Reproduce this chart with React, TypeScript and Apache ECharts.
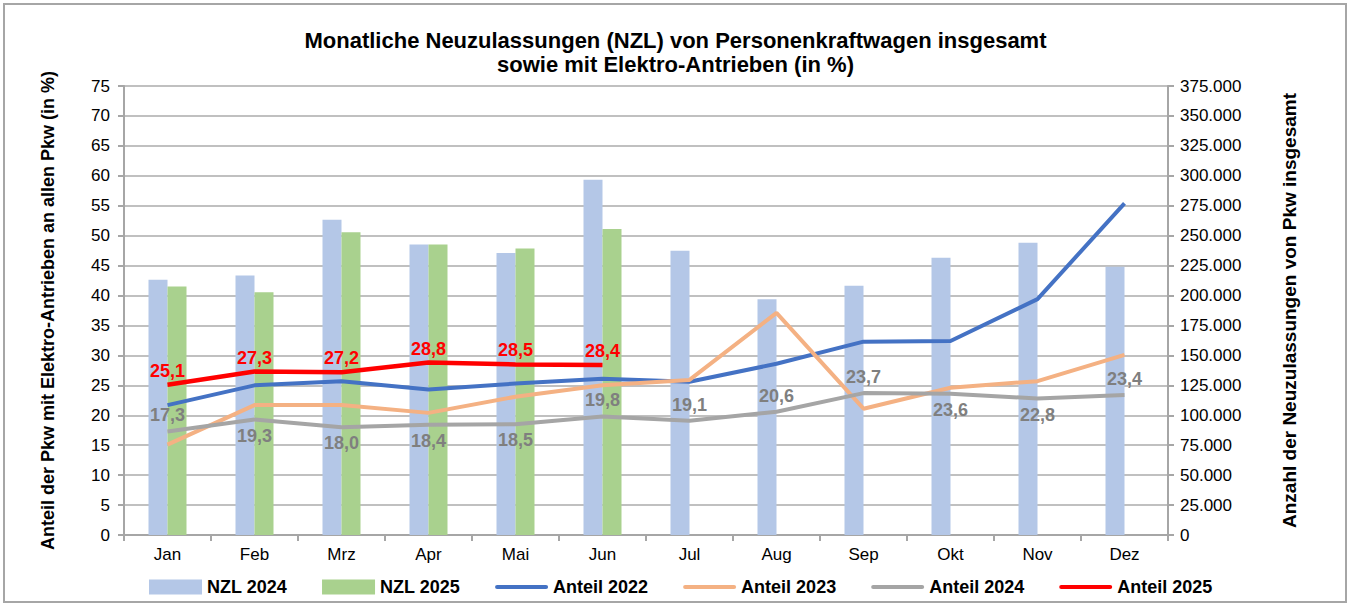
import React, { useEffect, useRef } from "react";
import * as echarts from "echarts";

const months = ["Jan", "Feb", "Mrz", "Apr", "Mai", "Jun", "Jul", "Aug", "Sep", "Okt", "Nov", "Dez"];
const nzl2024 = [213100, 216700, 263300, 242700, 235600, 296800, 237500, 197000, 208200, 231500, 244000, 224000];
const nzl2025 = [207600, 202800, 252800, 242700, 239200, 255500, null, null, null, null, null, null];
const anteil2022 = [21.7, 25.0, 25.7, 24.3, 25.3, 26.1, 25.6, 28.6, 32.3, 32.4, 39.4, 55.4];
const anteil2023 = [15.1, 21.7, 21.7, 20.4, 23.1, 25.0, 25.9, 37.1, 21.1, 24.6, 25.7, 30.1];
const anteil2024 = [17.3, 19.3, 18.0, 18.4, 18.5, 19.8, 19.1, 20.6, 23.7, 23.6, 22.8, 23.4];
const anteil2025 = [25.1, 27.3, 27.2, 28.8, 28.5, 28.4];
const leftTicks = { min: 0, max: 75, interval: 5 };
const rightTicks = { min: 0, max: 375000, interval: 25000 };

const FONT = "'Liberation Sans', Arial, sans-serif";
const LINE_ICON = "path://M2,0 L50,0 A2,2 0 0 1 50,4 L2,4 A2,2 0 0 1 2,0 Z";

export default function App() {
  const ref = useRef<HTMLDivElement>(null);
  useEffect(() => {
    if (!ref.current) return;
    const chart = echarts.init(ref.current, null, { renderer: "svg" });
    const grayBelow = [false, true, true, true, true, false, false, false, false, true, true, false];
    const fmt = (v: string) => v.replace(".", ",");
    const option: any = {
      animation: false,
      backgroundColor: "#ffffff",
      textStyle: { fontFamily: FONT },
      title: {
        text: "Monatliche Neuzulassungen (NZL) von Personenkraftwagen insgesamt\nsowie mit Elektro-Antrieben (in %)",
        left: "center",
        top: 23,
        textStyle: { fontFamily: FONT, fontSize: 22, fontWeight: "bold", color: "#000", lineHeight: 24 },
      },
      graphic: [
        {
          type: "rect",
          shape: { x: 4, y: 4, width: 1342, height: 598 },
          style: { fill: "none", stroke: "#a6a6a6", lineWidth: 2 },
          silent: true,
        },
      ],
      legend: {
        bottom: 6,
        left: 144,
        itemWidth: 53,
        itemHeight: 15,
        itemGap: 35,
        textStyle: { fontFamily: FONT, fontSize: 18, fontWeight: "bold", color: "#000" },
        data: [
          { name: "NZL 2024", icon: "rect" },
          { name: "NZL 2025", icon: "rect" },
          { name: "Anteil 2022", icon: LINE_ICON },
          { name: "Anteil 2023", icon: LINE_ICON },
          { name: "Anteil 2024", icon: LINE_ICON },
          { name: "Anteil 2025", icon: LINE_ICON },
        ],
      },
      grid: { left: 124, right: 183, top: 86, bottom: 72 },
      xAxis: {
        type: "category",
        data: months,
        axisLine: { lineStyle: { color: "#a6a6a6", width: 2 } },
        axisTick: { show: true, length: 6, lineStyle: { color: "#a6a6a6", width: 2 } },
        axisLabel: { fontFamily: FONT, fontSize: 17, color: "#000", margin: 11 },
      },
      yAxis: [
        {
          type: "value",
          ...leftTicks,
          name: "Anteil der Pkw mit Elektro-Antrieben an allen Pkw (in %)",
          nameLocation: "middle",
          nameGap: 67,
          nameRotate: 90,
          nameTextStyle: { fontFamily: FONT, fontSize: 18, fontWeight: "bold", color: "#000" },
          axisLine: { show: true, lineStyle: { color: "#a6a6a6", width: 2 } },
          axisTick: { show: true, length: 6, lineStyle: { color: "#a6a6a6", width: 2 } },
          axisLabel: { fontFamily: FONT, fontSize: 17, color: "#000", margin: 14 },
          splitLine: { show: true, lineStyle: { color: "#c0c0c0", width: 2 } },
        },
        {
          type: "value",
          ...rightTicks,
          position: "right",
          name: "Anzahl der Neuzulassungen von Pkw insgesamt",
          nameLocation: "middle",
          nameGap: 112,
          nameRotate: 90,
          nameTextStyle: { fontFamily: FONT, fontSize: 19, fontWeight: "bold", color: "#000" },
          axisLine: { show: true, lineStyle: { color: "#a6a6a6", width: 2 } },
          axisTick: { show: true, length: 6, lineStyle: { color: "#a6a6a6", width: 2 } },
          axisLabel: {
            fontFamily: FONT,
            fontSize: 17,
            color: "#000",
            margin: 12,
            formatter: (v: number) => v.toLocaleString("de-DE"),
          },
          splitLine: { show: false },
        },
      ],
      series: [
        {
          name: "NZL 2024",
          type: "bar",
          yAxisIndex: 1,
          data: nzl2024,
          barWidth: 19,
          barGap: "0%",
          itemStyle: { color: "#b4c7e7" },
          z: 1,
        },
        {
          name: "NZL 2025",
          type: "bar",
          yAxisIndex: 1,
          data: nzl2025,
          barWidth: 19,
          barGap: "0%",
          itemStyle: { color: "#a9d18e" },
          z: 1,
        },
        {
          name: "Anteil 2022",
          type: "line",
          data: anteil2022,
          symbol: "none",
          lineStyle: { color: "#4472c4", width: 4 },
          itemStyle: { color: "#4472c4" },
          z: 3,
        },
        {
          name: "Anteil 2023",
          type: "line",
          data: anteil2023,
          symbol: "none",
          lineStyle: { color: "#f4b183", width: 4 },
          itemStyle: { color: "#f4b183" },
          z: 3,
        },
        {
          name: "Anteil 2024",
          type: "line",
          data: anteil2024.map((v, i) => ({
            value: v,
            label: { position: grayBelow[i] ? "bottom" : "top" },
          })),
          symbol: "circle",
          symbolSize: 0.1,
          showSymbol: true,
          lineStyle: { color: "#a5a5a5", width: 4 },
          itemStyle: { color: "#a5a5a5" },
          label: {
            show: true,
            fontFamily: FONT,
            fontSize: 18,
            fontWeight: "bold",
            color: "#7f7f7f",
            distance: 7,
            formatter: (p: any) => fmt(Number(p.value).toFixed(1)),
          },
          z: 3,
        },
        {
          name: "Anteil 2025",
          type: "line",
          data: anteil2025,
          symbol: "circle",
          symbolSize: 0.1,
          showSymbol: true,
          lineStyle: { color: "#ff0000", width: 4.5 },
          itemStyle: { color: "#ff0000" },
          label: {
            show: true,
            position: "top",
            distance: 5,
            fontFamily: FONT,
            fontSize: 18,
            fontWeight: "bold",
            color: "#ff0000",
            formatter: (p: any) => fmt(Number(p.value).toFixed(1)),
          },
          z: 4,
        },
      ],
    };
    chart.setOption(option);
    return () => chart.dispose();
  }, []);
  return (
    <div
      ref={ref}
      style={{ position: "fixed", left: 0, top: 0, width: 1351, height: 607 }}
    />
  );
}
